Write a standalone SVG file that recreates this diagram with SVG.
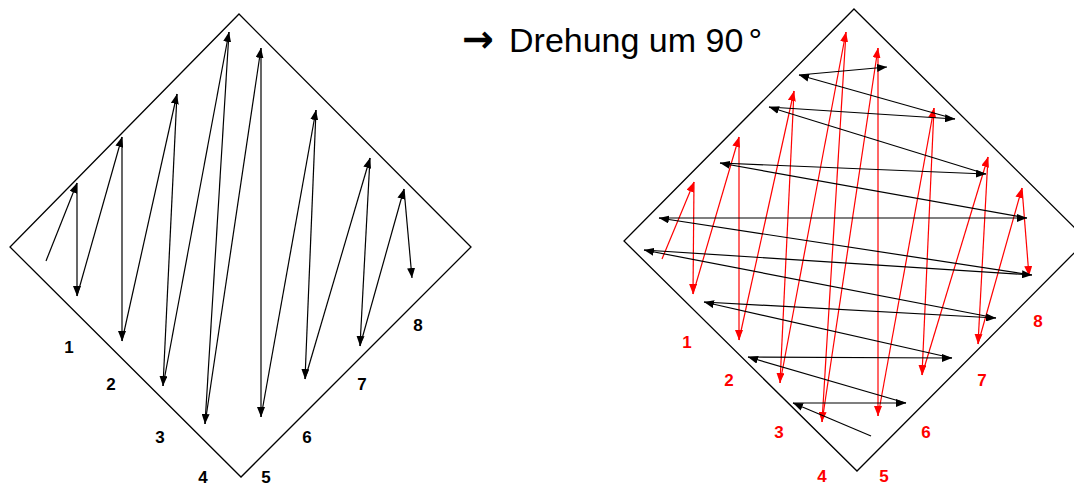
<svg xmlns="http://www.w3.org/2000/svg" width="1074" height="485" viewBox="0 0 1074 485">
<style>
.frame{fill:none;stroke:#000;stroke-width:1.3}
.blk{fill:none;stroke:#000;stroke-width:1.2;marker-end:url(#ab)}
.red{fill:none;stroke:#ff0000;stroke-width:1.2;marker-end:url(#ar)}
.lb{font-family:"Liberation Sans",Arial,sans-serif;font-weight:bold;font-size:17px;text-anchor:middle;fill:#000}
.lr{font-family:"Liberation Sans",Arial,sans-serif;font-weight:bold;font-size:17px;text-anchor:middle;fill:#ff0000}
.title{font-family:"Liberation Sans",Arial,sans-serif;font-size:34px;fill:#000}
</style>
<defs>
<marker id="ab" viewBox="0 0 10 8" refX="10" refY="4" markerWidth="10" markerHeight="8" markerUnits="userSpaceOnUse" orient="auto"><path d="M0,0 L10,4 L0,8 z" fill="#000"/></marker>
<marker id="ar" viewBox="0 0 10 8" refX="10" refY="4" markerWidth="10" markerHeight="8" markerUnits="userSpaceOnUse" orient="auto"><path d="M0,0 L10,4 L0,8 z" fill="#ff0000"/></marker>
</defs>
<rect width="1074" height="485" fill="#fff"/>
<g id="left-diamond"><polygon class="frame" points="239,14 471,247 241,477 10,247"/></g>
<g id="right-diamond"><polygon class="frame" points="854,9 1087,240 857,471 624,241"/></g>
<g id="title"><text class="title" y="52"><tspan x="462" font-family="DejaVu Sans, sans-serif" font-weight="bold" font-size="38">→</tspan><tspan x="509">Drehung um 90</tspan><tspan dx="5">°</tspan></text></g>
<g id="connectors">
<g id="left-zigzag">
<line class="blk" x1="46" y1="261" x2="77" y2="183"/>
<line class="blk" x1="77" y1="183" x2="77" y2="296"/>
<line class="blk" x1="77" y1="296" x2="122" y2="137"/>
<line class="blk" x1="122" y1="137" x2="122" y2="341"/>
<line class="blk" x1="122" y1="341" x2="177" y2="94"/>
<line class="blk" x1="177" y1="94" x2="163" y2="386"/>
<line class="blk" x1="163" y1="386" x2="229" y2="32"/>
<line class="blk" x1="229" y1="32" x2="205" y2="424"/>
<line class="blk" x1="205" y1="424" x2="261" y2="48"/>
<line class="blk" x1="261" y1="48" x2="261" y2="417"/>
<line class="blk" x1="261" y1="417" x2="316" y2="110"/>
<line class="blk" x1="316" y1="110" x2="305" y2="379"/>
<line class="blk" x1="305" y1="379" x2="370" y2="158"/>
<line class="blk" x1="370" y1="158" x2="360" y2="346"/>
<line class="blk" x1="360" y1="346" x2="404" y2="189"/>
<line class="blk" x1="404" y1="189" x2="412" y2="278"/>
</g>
<g id="right-red-zigzag">
<line class="red" x1="662" y1="259" x2="694" y2="182"/>
<line class="red" x1="694" y1="182" x2="693" y2="294"/>
<line class="red" x1="693" y1="294" x2="739" y2="137"/>
<line class="red" x1="739" y1="137" x2="739" y2="340"/>
<line class="red" x1="739" y1="340" x2="794" y2="91"/>
<line class="red" x1="794" y1="91" x2="780" y2="383"/>
<line class="red" x1="780" y1="383" x2="846" y2="32"/>
<line class="red" x1="846" y1="32" x2="822" y2="422"/>
<line class="red" x1="822" y1="422" x2="878" y2="48"/>
<line class="red" x1="878" y1="48" x2="878" y2="416"/>
<line class="red" x1="878" y1="416" x2="934" y2="108"/>
<line class="red" x1="934" y1="108" x2="922" y2="375"/>
<line class="red" x1="922" y1="375" x2="988" y2="157"/>
<line class="red" x1="988" y1="157" x2="978" y2="344"/>
<line class="red" x1="978" y1="344" x2="1022" y2="188"/>
<line class="red" x1="1022" y1="188" x2="1029" y2="276"/>
</g>
<g id="right-black-zigzag">
<line class="blk" x1="871" y1="436" x2="793" y2="403"/>
<line class="blk" x1="793" y1="403" x2="906" y2="403"/>
<line class="blk" x1="906" y1="403" x2="748" y2="357"/>
<line class="blk" x1="748" y1="357" x2="952" y2="358"/>
<line class="blk" x1="952" y1="358" x2="704" y2="302"/>
<line class="blk" x1="704" y1="302" x2="996" y2="318"/>
<line class="blk" x1="996" y1="318" x2="644" y2="250"/>
<line class="blk" x1="644" y1="250" x2="1032" y2="275"/>
<line class="blk" x1="1032" y1="275" x2="659" y2="218"/>
<line class="blk" x1="659" y1="218" x2="1027" y2="218"/>
<line class="blk" x1="1027" y1="218" x2="720" y2="163"/>
<line class="blk" x1="720" y1="163" x2="986" y2="174"/>
<line class="blk" x1="986" y1="174" x2="769" y2="107"/>
<line class="blk" x1="769" y1="107" x2="955" y2="119"/>
<line class="blk" x1="955" y1="119" x2="799" y2="75"/>
<line class="blk" x1="799" y1="75" x2="887" y2="67"/>
</g>
</g>
<g id="left-labels">
<text class="lb" x="69" y="353">1</text>
<text class="lb" x="111" y="390">2</text>
<text class="lb" x="160" y="443">3</text>
<text class="lb" x="203" y="483">4</text>
<text class="lb" x="266" y="483">5</text>
<text class="lb" x="307" y="443">6</text>
<text class="lb" x="362" y="390">7</text>
<text class="lb" x="418" y="331">8</text>
</g>
<g id="right-labels">
<text class="lr" x="687" y="348">1</text>
<text class="lr" x="729" y="386">2</text>
<text class="lr" x="779" y="438">3</text>
<text class="lr" x="822" y="482">4</text>
<text class="lr" x="884" y="482">5</text>
<text class="lr" x="926" y="438">6</text>
<text class="lr" x="982" y="386">7</text>
<text class="lr" x="1038" y="327">8</text>
</g>
</svg>
